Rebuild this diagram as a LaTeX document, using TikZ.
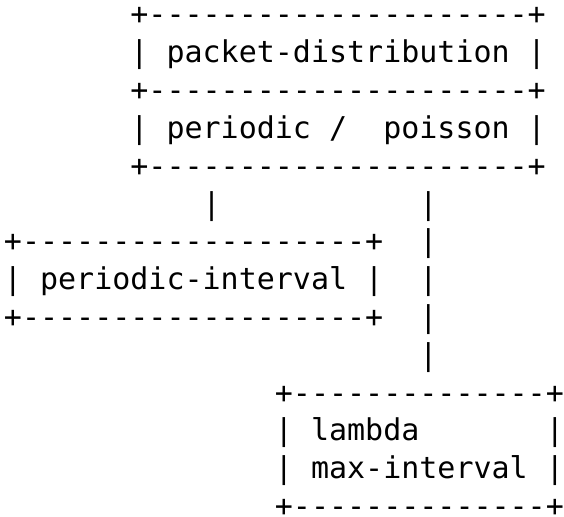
\documentclass[tikz,border=0pt]{standalone}
\usepackage{fontspec}
\setmonofont{DejaVu Sans Mono}
\begin{document}
\begin{tikzpicture}[x=18.06pt, y=-37.8pt,
  t/.style={anchor=base west, inner sep=0pt, outer sep=0pt, font=\ttfamily\fontsize{30pt}{36pt}\selectfont, text=black}]
\useasboundingbox (-4pt,25pt) rectangle (560pt,-491pt);
% top box
\node[t] (r0) at (7,0) {+---------------------+};
\node[t] (r1) at (7,1) {| packet-distribution |};
\node[t] (r2) at (7,2) {+---------------------+};
\node[t] (r3) at (7,3) {| periodic /~~poisson |};
\node[t] (r4) at (7,4) {+---------------------+};
% connectors
\node[t] (c5a) at (11,5) {|};
\node[t] (c5b) at (23,5) {|};
\node[t] (c6) at (23,6) {|};
\node[t] (c7) at (23,7) {|};
\node[t] (c8) at (23,8) {|};
\node[t] (c9) at (23,9) {|};
% periodic-interval box
\node[t] (p6) at (0,6) {+-------------------+};
\node[t] (p7) at (0,7) {| periodic-interval |};
\node[t] (p8) at (0,8) {+-------------------+};
% lambda box
\node[t] (l10) at (15,10) {+--------------+};
\node[t] (l11) at (15,11) {| lambda~~~~~~~|};
\node[t] (l12) at (15,12) {| max-interval |};
\node[t] (l13) at (15,13) {\raisebox{0pt}[\height][0pt]{+--------------+}};
\end{tikzpicture}
\end{document}
